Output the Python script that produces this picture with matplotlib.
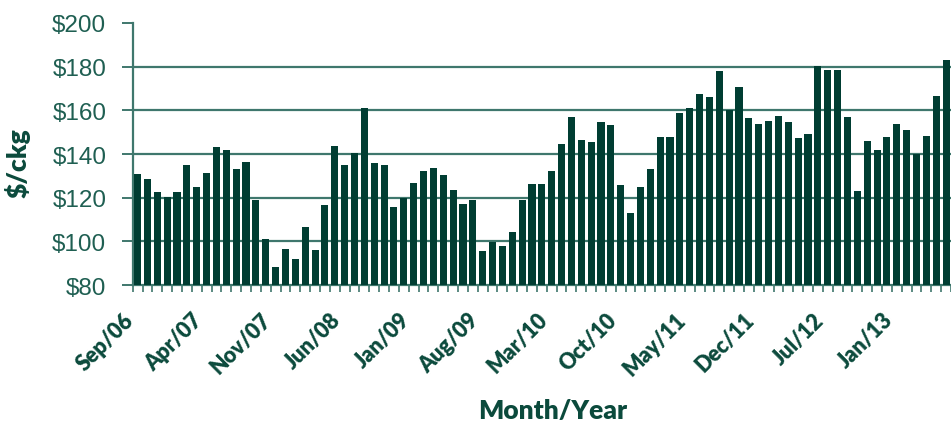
import matplotlib
matplotlib.use('Agg')
import matplotlib.pyplot as plt
import numpy as np

# Monthly price, Sep/06 onwards ($/ckg)
prices = [
    130.7, 128.5, 122.7, 120.5, 122.7, 135.1, 125.0, 131.3, 143.2, 141.7,
    133.0, 136.5, 118.9, 100.9, 88.1, 96.5, 92.1, 106.4, 95.9, 116.6,
    143.5, 135.1, 140.5, 161.2, 136.0, 134.8, 115.9, 119.7, 126.6, 132.1,
    133.4, 130.5, 123.4, 117.1, 118.8, 95.6, 99.8, 97.7, 104.4, 118.8,
    126.4, 126.4, 132.1, 144.4, 156.8, 146.6, 145.6, 154.5, 153.3, 126.0,
    112.8, 125.0, 133.3, 147.6, 148.0, 158.8, 160.9, 167.3, 166.3, 178.2,
    160.2, 170.7, 156.6, 153.7, 155.3, 157.6, 154.5, 147.5, 149.2, 180.5,
    178.6, 178.6, 157.1, 123.2, 146.0, 141.7, 147.9, 153.6, 151.1, 139.8,
    148.4, 166.7, 183.2,
]
tick_labels = ['Sep/06', 'Apr/07', 'Nov/07', 'Jun/08', 'Jan/09', 'Aug/09',
               'Mar/10', 'Oct/10', 'May/11', 'Dec/11', 'Jul/12', 'Jan/13']
y_ticks = [80, 100, 120, 140, 160, 180, 200]

bar_color = '#003d32'
line_color = '#3f776d'
text_color = '#1f5f52'
bold_color = '#0b4a3c'

fig = plt.figure(figsize=(9.51, 4.27), dpi=100)
ax = fig.add_axes([0.1395, 0.330, 0.8605, 0.614])

x = np.arange(len(prices))
ax.bar(x, prices, width=0.72, color=bar_color, zorder=3)

ax.set_ylim(80, 200)
ax.set_xlim(-0.4, len(prices) - 0.55)

# gridlines (no line at the top value)
for v in y_ticks[1:-1]:
    ax.axhline(v, color=line_color, linewidth=1.6, zorder=1)

ax.set_yticks(y_ticks)
ax.set_yticklabels(['$%d' % v for v in y_ticks], fontsize=17.5,
                   family='Liberation Sans', color=text_color)
ax.tick_params(axis='y', direction='out', length=8, width=1.4,
               color=line_color, pad=11)

ax.set_xticks(x[::7])
ax.set_xticklabels(tick_labels, rotation=45, ha='right', fontsize=15.5,
                   fontweight='heavy', family='Lato', color=bold_color)
ax.set_xticks(np.arange(-0.5, len(prices), 1), minor=True)
ax.tick_params(axis='x', which='major', length=0, pad=17)
ax.tick_params(axis='x', which='minor', direction='out', length=5,
               width=1.2, color=line_color)

for side in ['top', 'right']:
    ax.spines[side].set_visible(False)
ax.spines['left'].set_color(line_color)
ax.spines['left'].set_linewidth(1.6)
ax.spines['bottom'].set_color(line_color)
ax.spines['bottom'].set_linewidth(1.6)

ax.set_ylabel('$/ckg', fontsize=19, fontweight='heavy', family='Lato',
              color=bold_color)
ax.yaxis.set_label_coords(-0.125, 0.47)
ax.set_xlabel('Month/Year', fontsize=19, fontweight='heavy', family='Lato',
              color=bold_color)
ax.xaxis.set_label_coords(0.513, -0.43)

fig.savefig('out.png', dpi=100)
